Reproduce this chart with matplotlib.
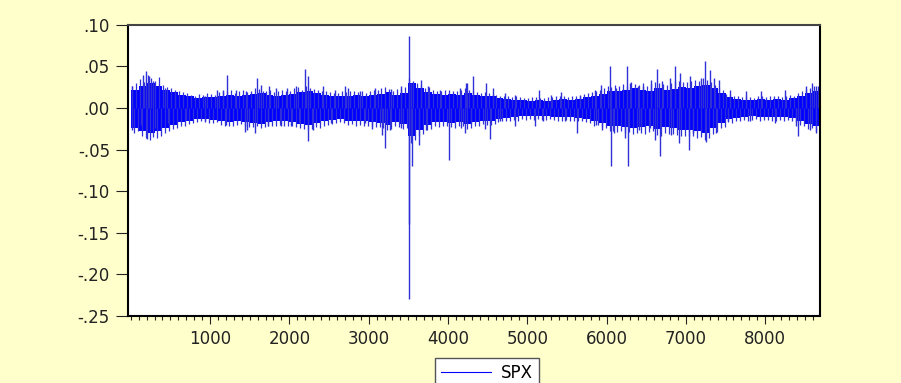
"""
spx_returns.py
Daily SPX log returns, EViews-style line chart.
"""

import numpy as np
import matplotlib.pyplot as plt
from matplotlib.ticker import FuncFormatter, MultipleLocator

# Dense core of the series, one hi/lo pair per block of 100 observations
BLOCK = 100
core_hi = [
    .022, .026, .030, .027, .022, .019, .016, .014, .012, .013,
    .013, .015, .016, .015, .016, .017, .018, .016, .015, .016,
    .017, .019, .021, .018, .016, .015, .014, .015, .016, .015,
    .016, .017, .019, .016, .018, .030, .024, .019, .017, .016,
    .017, .016, .018, .016, .014, .014, .012, .011, .010, .010,
    .009, .010, .009, .010, .011, .010, .011, .013, .015, .017,
    .020, .021, .022, .024, .022, .021, .024, .022, .023, .025,
    .024, .026, .028, .024, .018, .013, .011, .010, .010, .011,
    .010, .011, .010, .012, .014, .018, .020,
]
core_lo = [
    -.024, -.027, -.030, -.028, -.024, -.020, -.017, -.015, -.013, -.013,
    -.014, -.016, -.017, -.015, -.017, -.018, -.019, -.017, -.016, -.016,
    -.017, -.019, -.020, -.018, -.016, -.014, -.013, -.015, -.016, -.016,
    -.017, -.018, -.020, -.017, -.019, -.034, -.026, -.020, -.017, -.017,
    -.018, -.017, -.019, -.017, -.015, -.015, -.013, -.012, -.011, -.010,
    -.010, -.010, -.010, -.011, -.011, -.011, -.012, -.013, -.016, -.018,
    -.021, -.022, -.023, -.024, -.023, -.022, -.025, -.023, -.024, -.026,
    -.026, -.028, -.030, -.024, -.018, -.013, -.012, -.011, -.010, -.011,
    -.011, -.011, -.011, -.012, -.015, -.019, -.022,
]
n_obs = 8690

# Ragged fringe just outside the core, one value per 50 observations (x 0.001)
HALF = 50
fringe_up = [
    26, 30, 35, 31, 40, 36, 33, 37, 28, 25, 24, 22, 20, 19, 18, 16, 15, 17, 16, 18,
    17, 16, 19, 21, 20, 22, 18, 21, 22, 19, 21, 24, 23, 21, 20, 22, 19, 21, 22, 20,
    21, 24, 25, 22, 27, 24, 23, 22, 20, 21, 19, 18, 18, 20, 19, 21, 21, 19, 20, 18,
    21, 22, 22, 24, 25, 23, 21, 23, 23, 25, 36, 33, 30, 28, 24, 25, 22, 21, 20, 22,
    22, 21, 20, 22, 24, 22, 21, 19, 18, 19, 18, 17, 16, 15, 14, 15, 13, 14, 13, 12,
    12, 13, 13, 12, 12, 13, 13, 14, 14, 15, 13, 14, 15, 14, 17, 18, 19, 21, 22, 24,
    26, 25, 28, 26, 29, 27, 31, 29, 28, 30, 27, 29, 31, 30, 29, 28, 30, 32, 33, 31,
    31, 33, 34, 32, 36, 34, 31, 28, 24, 22, 17, 16, 14, 15, 13, 14, 13, 12, 14, 15,
    13, 14, 15, 14, 13, 14, 16, 15, 18, 20, 23, 24, 26, 27,
]
fringe_dn = [
    -30, -27, -34, -36, -38, -35, -36, -34, -30, -28, -25, -24, -21, -22, -19, -18, -17, -16, -17, -18,
    -18, -17, -20, -21, -22, -21, -20, -19, -22, -23, -23, -22, -24, -23, -22, -21, -21, -20, -21, -22,
    -22, -23, -24, -25, -26, -25, -23, -24, -21, -20, -19, -18, -17, -18, -20, -19, -21, -20, -21, -22,
    -22, -23, -23, -24, -26, -25, -22, -23, -25, -24, -42, -38, -33, -31, -26, -25, -22, -23, -22, -21,
    -23, -24, -22, -21, -25, -24, -22, -21, -19, -20, -20, -19, -17, -16, -16, -15, -14, -15, -13, -14,
    -13, -14, -13, -14, -14, -13, -14, -15, -15, -14, -15, -16, -16, -15, -17, -18, -21, -20, -23, -24,
    -27, -28, -29, -28, -30, -29, -31, -30, -30, -31, -29, -28, -32, -33, -30, -31, -31, -32, -34, -33,
    -34, -33, -36, -35, -38, -36, -31, -29, -24, -23, -17, -18, -16, -15, -14, -15, -14, -13, -15, -14,
    -14, -15, -15, -14, -15, -14, -16, -17, -20, -21, -25, -24, -28, -29,
]

# Single-day outliers sticking out of the core (observation, return)
spike_obs = [
    10, 155, 198, 227, 282, 429, 555, 933, 1093, 1164, 1219, 1332, 1458,
    1597, 1648, 1740, 1837, 1976, 2089,
    12, 126, 210, 303, 471, 702, 940, 1206, 1437, 1471, 1572, 1732, 1900, 2026,
    2194, 2236, 2426, 2572, 2699, 2741, 2888, 3077, 3287, 3413, 3507, 3539,
    3666, 3750, 3897, 4149, 4246,
    2119, 2238, 2299, 2531, 2951, 3043, 3170, 3212, 3266, 3405, 3505, 3506,
    3548, 3632, 3729, 4010, 4170,
    4233, 4317, 4485, 4569, 4716, 4842, 5145, 5305, 5431, 5662, 5851, 5935,
    6049, 6124, 6263, 6292, 6397,
    4212, 4296, 4473, 4535, 4653, 4851, 5095, 5200, 5473, 5633, 5872, 5937,
    6050, 6095, 6229, 6264, 6414,
    6461, 6566, 6637, 6705, 6805, 6860, 6923, 7049, 7196, 7247, 7302, 7352,
    7419, 7554, 7756, 7953, 8247, 8512, 8596, 8647,
    6440, 6545, 6608, 6680, 6818, 6914, 7040, 7090, 7260, 7386, 7533, 7806,
    8121, 8394, 8415, 8562, 8638,
]
spike_val = [
    .026, .040, .044, .038, .032, .024, .018, .014, .022, .022, .040, .022, .020,
    .036, .028, .026, .024, .024, .026,
    -.026, -.020, -.037, -.024, -.018, -.014, -.016, -.020, -.029, -.026, -.030, -.022, -.022, -.021,
    .047, .039, .026, .022, .026, .024, .020, .024, .023, .026, .087, .030,
    .034, .026, .022, .024, .030,
    -.018, -.040, -.026, -.018, -.018, -.025, -.032, -.048, -.026, -.024, -.140, -.229,
    -.070, -.044, -.026, -.062, -.024,
    .030, .038, .030, .024, .018, .016, .022, .016, .019, .016, .022, .028,
    .050, .024, .050, .030, .026,
    -.030, -.018, -.025, -.037, -.016, -.022, -.021, -.016, -.016, -.030, -.020, -.026,
    -.070, -.030, -.036, -.070, -.026,
    .026, .034, .047, .032, .036, .050, .042, .038, .036, .056, .046, .036,
    .034, .022, .020, .020, .022, .026, .030, .026,
    -.022, -.024, -.038, -.058, -.032, -.042, -.050, -.030, -.041, -.030, -.016, -.016,
    -.018, -.022, -.034, -.026, -.030,
]

series_name = "SPX"
y_ticks = [.10, .05, .00, -.05, -.10, -.15, -.20, -.25]
x_ticks = [1000, 2000, 3000, 4000, 5000, 6000, 7000, 8000]

BG = "#ffffcc"
LINE = "#0000ff"
FRAY = "#3030d8"

fig = plt.figure(figsize=(9.01, 3.83), dpi=100, facecolor=BG)
ax = fig.add_axes([0.142, 0.175, 0.768, 0.760])
ax.set_facecolor("white")

# core band as steps over the blocks
edges = np.arange(len(core_hi) + 1) * BLOCK
edges[-1] = n_obs
hi = np.append(core_hi, core_hi[-1])
lo = np.append(core_lo, core_lo[-1])
ax.fill_between(edges, lo, hi, step="post", color=LINE, linewidth=0, zorder=2)

# fringe and outliers as thin vertical strokes from zero
half_pos = np.arange(len(fringe_up)) * HALF
ax.vlines(half_pos + 12, 0, np.array(fringe_up) / 1000, color=FRAY,
          linewidth=0.9, zorder=2)
ax.vlines(half_pos + 37, 0, np.array(fringe_dn) / 1000, color=FRAY,
          linewidth=0.9, zorder=2)
ax.vlines(spike_obs, 0, spike_val, color=FRAY, linewidth=1.0, zorder=3)
ax.plot([], [], color=LINE, linewidth=0.8, label=series_name)

ax.set_xlim(-35, n_obs)
ax.set_ylim(-0.25, 0.10)
ax.set_yticks(y_ticks)
ax.set_xticks(x_ticks)
ax.xaxis.set_minor_locator(MultipleLocator(100))
ax.yaxis.set_major_formatter(
    FuncFormatter(lambda v, _: f"{v:.2f}".replace("0.", ".", 1))
)

for side in ["left", "bottom", "right"]:
    ax.spines[side].set_linewidth(1.5)
    ax.spines[side].set_color("black")
ax.spines["top"].set_linewidth(1.5)
ax.spines["top"].set_color("#444444")

ax.tick_params(axis="y", direction="out", length=9, width=0.8, pad=4,
               labelsize=12, colors="#222222")
ax.tick_params(axis="x", which="major", direction="out", length=6, width=0.8,
               pad=4, labelsize=12, colors="#222222")
ax.tick_params(axis="x", which="minor", direction="out", length=3, width=0.8,
               colors="#222222")

fig.legend(loc="upper center", bbox_to_anchor=(0.5405, 0.065), ncol=1,
           fancybox=False, framealpha=1, edgecolor="#555555", fontsize=12,
           handlelength=3.0, borderpad=0.35, handletextpad=0.6,
           borderaxespad=0)

fig.savefig("out.png", dpi=100, facecolor=BG)
